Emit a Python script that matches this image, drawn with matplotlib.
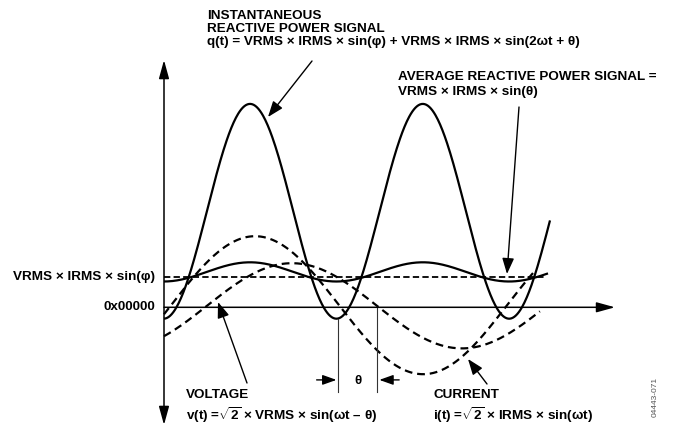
import numpy as np
import matplotlib
matplotlib.use("Agg")
from matplotlib import pyplot as plt
from matplotlib.transforms import Affine2D

plt.rcParams['font.family'] = ['Liberation Sans', 'DejaVu Sans']
plt.rcParams['font.weight'] = 'bold'
plt.rcParams['mathtext.fontset'] = 'custom'
plt.rcParams['mathtext.rm'] = 'Liberation Sans:bold'
plt.rcParams['mathtext.it'] = 'Liberation Sans:bold'
plt.rcParams['mathtext.bf'] = 'Liberation Sans:bold'
plt.rcParams['mathtext.default'] = 'rm'

# x is wt in degrees, y in units where VRMS x IRMS x sin(phi) is 1
# each curve: offset, amplitude, period (deg), first peak (deg), last point (deg)
q_signal = [3.2, 3.58, 182.9, 91.1, 408.7]
q_ripple = [1.18, 0.32, 182.9, 91.1, 406.6]
current = [0.07, 2.3, 355.8, 96.4, 390.7]
voltage = [0.05, 1.42, 360.0, 135.5, 398.0]
average_level = 1.0
average_end = 404.5
theta_marks = [184.6, 226.0]
theta_tops = [-0.38, 0.0]
theta_bottom = -2.83
theta_arrow_y = -2.42
x_axis_end = 477.5
y_axis_range = [-3.92, 8.24]

W, H = 676, 427
fig = plt.figure(figsize=(W / 100, H / 100), dpi=100)
ax = fig.add_axes([0, 0, 1, 1])
ax.set_xlim(-164 * 360 / 340, (W - 164) * 360 / 340)
ax.set_ylim((308.3 - H) / 30, 308.3 / 30)
ax.axis('off')

# pixel coords (origin top left) for labels
px = Affine2D().scale(1, -1).translate(0, H)


def wave(params):
    offset, amp, period, peak, end = params
    t = np.linspace(0, end, 500)
    return t, offset + amp * np.cos(2 * np.pi * (t - peak) / period)


solid = dict(color='black', lw=1.6, solid_capstyle='butt')
dashed = dict(color='black', lw=1.6, linestyle=(0, (3.5, 2.2)))

ax.plot(*wave(q_signal), **solid)
ax.plot(*wave(q_ripple), **solid)
ax.plot(*wave(current), **dashed)
ax.plot(*wave(voltage), **dashed)
ax.plot([0, average_end], [average_level, average_level], color='black', lw=1.3,
        linestyle=(0, (3.5, 1.8)))

# axes with arrows
ax.annotate('', xy=(x_axis_end, 0), xytext=(0, 0),
            arrowprops=dict(arrowstyle='-|>,head_length=0.8,head_width=0.22',
                            mutation_scale=14, color='black', lw=1.1, shrinkA=0, shrinkB=0))
ax.annotate('', xy=(0, y_axis_range[1]), xytext=(0, y_axis_range[0]),
            arrowprops=dict(arrowstyle='<|-|>,head_length=0.8,head_width=0.22',
                            mutation_scale=14, color='black', lw=1.1, shrinkA=0, shrinkB=0))

# theta markers
for xm, top in zip(theta_marks, theta_tops):
    ax.plot([xm, xm], [top, theta_bottom], color='#333333', lw=0.8)
ax.annotate('', xy=(theta_marks[0] - 2, theta_arrow_y), xytext=(theta_marks[0] - 23, theta_arrow_y),
            arrowprops=dict(arrowstyle='-|>,head_length=0.7,head_width=0.25', mutation_scale=12,
                            color='black', lw=1.0, shrinkA=0, shrinkB=0))
ax.annotate('', xy=(theta_marks[1] + 2, theta_arrow_y), xytext=(theta_marks[1] + 23, theta_arrow_y),
            arrowprops=dict(arrowstyle='-|>,head_length=0.7,head_width=0.25', mutation_scale=12,
                            color='black', lw=1.0, shrinkA=0, shrinkB=0))
ax.text(sum(theta_marks) / 2, theta_arrow_y, 'θ', ha='center', va='center', fontsize=9.5)

# labels
fs = 9.7
ax.text(207, 16, 'INSTANTANEOUS', transform=px, fontsize=fs, va='center')
ax.text(207, 29, 'REACTIVE POWER SIGNAL', transform=px, fontsize=fs, va='center')
ax.text(207, 42, 'q(t) = VRMS × IRMS × sin(φ) + VRMS × IRMS × sin(2ωt + θ)',
        transform=px, fontsize=fs, va='center')
ax.text(398, 77, 'AVERAGE REACTIVE POWER SIGNAL =', transform=px, fontsize=fs, va='center')
ax.text(398, 92, 'VRMS × IRMS × sin(θ)', transform=px, fontsize=fs, va='center')
ax.text(155, 277.5, 'VRMS × IRMS × sin(φ)', transform=px, fontsize=fs, va='center', ha='right')
ax.text(155, 307.5, '0x00000', transform=px, fontsize=fs, va='center', ha='right')
ax.text(186, 395, 'VOLTAGE', transform=px, fontsize=fs, va='center')
ax.text(186, 415, r'v(t) =$\sqrt{2}$ × VRMS × sin(ωt – θ)', transform=px, fontsize=fs, va='center')
ax.text(433, 395, 'CURRENT', transform=px, fontsize=fs, va='center')
ax.text(433, 415, r'i(t) =$\sqrt{2}$ × IRMS × sin(ωt)', transform=px, fontsize=fs, va='center')
ax.text(655, 397, '04443-071', transform=px, fontsize=6, va='center', ha='center',
        rotation=90, color='#555555', fontweight='normal')

# label pointers
pointer = dict(arrowstyle='-|>,head_length=0.8,head_width=0.3', mutation_scale=12,
               color='black', lw=1.0, shrinkA=0, shrinkB=0)
for tail, tip in [((312, 62), (268, 118)), ((519, 108), (507, 275)),
                  ((247, 384), (218, 303)), ((487, 385), (468, 360))]:
    ax.annotate('', xy=tip, xycoords=px, xytext=tail, textcoords=px, arrowprops=pointer)

fig.savefig('out.png', dpi=100)
